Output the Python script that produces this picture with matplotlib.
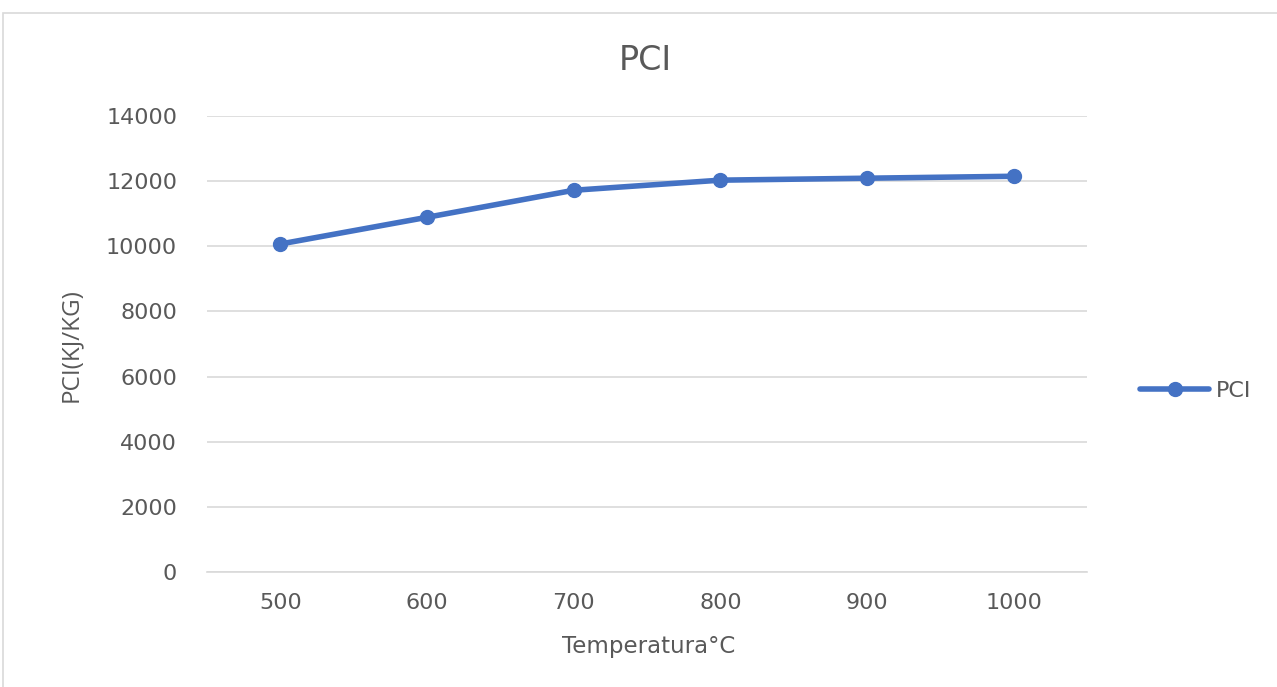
import matplotlib.pyplot as plt
from matplotlib.patches import Rectangle

temps = ['500', '600', '700', '800', '900', '1000']
pci = [10070, 10890, 11720, 12030, 12090, 12150]
y_ticks = [0, 2000, 4000, 6000, 8000, 10000, 12000, 14000]

line_color = '#4472C4'
text_color = '#595959'
grid_color = '#D9D9D9'

plt.rcParams['font.family'] = ['DejaVu Sans']

fig = plt.figure(figsize=(12.77, 6.87), dpi=100)

# chart frame (Excel-like border, cut at right/bottom)
fig.patches.append(Rectangle((3 / 1277, -0.1), 1.2, 1 - 13 / 687 + 0.1,
                             transform=fig.transFigure, fill=False,
                             edgecolor=grid_color, linewidth=1.2))

ax = fig.add_axes([207 / 1277, 1 - 572 / 687, 880 / 1277, (572 - 116) / 687])

x = list(range(len(temps)))
ax.plot(x, pci, color=line_color, linewidth=4, marker='o', markersize=10,
        solid_capstyle='round', label='PCI')

ax.set_xlim(-0.5, len(temps) - 0.5)
ax.set_ylim(0, 14000)
ax.set_yticks(y_ticks)
ax.set_yticklabels([str(v) for v in y_ticks])
ax.set_xticks(x)
ax.set_xticklabels(temps)

ax.grid(axis='y', color=grid_color, linewidth=1.2)
ax.set_axisbelow(True)
for s in ['top', 'right', 'left']:
    ax.spines[s].set_visible(False)
ax.spines['bottom'].set_color(grid_color)
ax.spines['bottom'].set_linewidth(1.2)
ax.tick_params(length=0, labelsize=16, colors=text_color)
ax.tick_params(axis='y', pad=21.5)
ax.tick_params(axis='x', pad=15)

fig.text(645 / 1277, 1 - 60 / 687, 'PCI', ha='center', va='center',
         fontsize=24, color=text_color)
fig.text(71 / 1277, 1 - 345 / 687, 'PCI(KJ/KG)', ha='center', va='center',
         rotation=90, fontsize=17.5, color=text_color, family='Open Sans')
fig.text(649 / 1277, 1 - 646 / 687, 'Temperatura°C', ha='center', va='center',
         fontsize=16.5, color=text_color)

leg = ax.legend(loc='center left', bbox_to_anchor=(1.038, 0.397), frameon=False,
                fontsize=16, handlelength=3.1, handletextpad=0.3)
for t in leg.get_texts():
    t.set_color(text_color)

fig.savefig('out.png', dpi=100)
